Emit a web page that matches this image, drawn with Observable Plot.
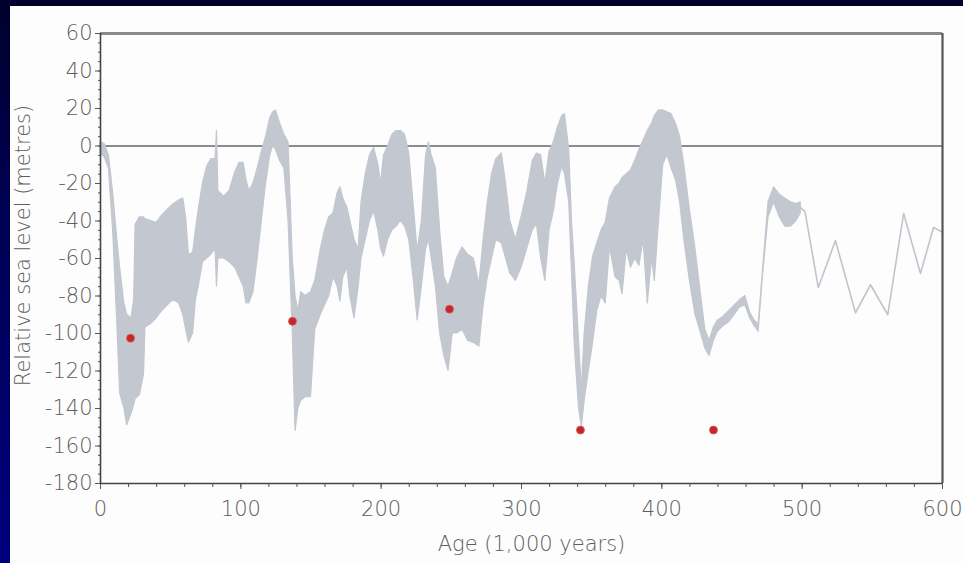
<!DOCTYPE html>
<html>
<head>
<meta charset="utf-8">
<script src="https://cdn.jsdelivr.net/npm/d3@7"></script>
<script src="https://cdn.jsdelivr.net/npm/@observablehq/plot@0.6"></script>
<style>
  html, body { margin: 0; padding: 0; width: 963px; height: 563px; overflow: hidden; }
  body { background: linear-gradient(to bottom, #00002c 0%, #000050 35%, #00007e 100%); position: relative; }
  #panel { position: absolute; left: 10px; top: 6px; right: 0; bottom: 0; background: #fdfdfd; }
  #chart { position: absolute; left: 0; top: 0; }
</style>
</head>
<body>
<div id="panel"></div>
<div id="chart"></div>
<script>
// Sea-level band (ages in thousand years, metres)
const ages  = [0,3,6,9,12,14,17,19,22,24,25,28,31,32,36,40,44,48,52,56,59,61,63,66,68,70,73,76,79,82,83,84,88,92,96,99,102,104,106,109,112,115,118,121,123,125,128,131,134,137,139,141,143,146,150,153,157,160,163,166,169,171,173,176,178,181,184,186,189,192,195,198,200,202,205,208,211,214,217,220,223,226,229,232,234,236,239,242,245,248,251,254,258,262,266,270,273,276,279,282,286,289,292,296,300,304,308,311,314,317,320,323,326,329,331,334,336,338,341,343,345,348,351,354,357,360,363,367,370,372,375,378,381,384,387,390,393,395,398,401,404,407,410,413,416,420,424,428,431,434,437,440,444,448,452,456,459.5,463,466,469,472,476,480,484,488,492,496,499];
const lower = [-4,-6,-12,-45,-95,-132,-140,-149,-143,-138,-135,-133,-122,-97,-95,-92,-88,-85,-82,-84,-90,-98,-105,-100,-82,-75,-62,-60,-58,-55,-75,-60,-60,-62,-65,-70,-75,-84,-84,-78,-60,-40,-20,-5,0,-2,-8,-12,-40,-100,-152,-140,-136,-134,-134,-98,-90,-85,-80,-70,-75,-83,-70,-65,-80,-92,-75,-60,-50,-40,-35,-45,-55,-59,-50,-45,-43,-40,-43,-50,-70,-93,-75,-55,-50,-60,-75,-100,-112,-120,-100,-100,-98,-104,-105,-107,-85,-70,-60,-50,-52,-60,-68,-72,-65,-55,-45,-42,-60,-72,-45,-35,-20,-11,-15,-30,-68,-107,-140,-150,-136,-120,-105,-88,-80,-84,-54,-70,-72,-79,-55,-65,-60,-64,-50,-84,-60,-72,-40,-10,-5,-12,-18,-30,-50,-72,-90,-100,-108,-112,-104,-99,-96,-94,-90,-86,-85,-92,-96,-99,-70,-38,-30,-38,-43,-43,-40,-36];
const upper = [2,1,-5,-25,-50,-65,-84,-90,-92,-82,-42,-38,-38,-39,-40,-41,-37,-34,-31,-29,-28,-38,-58,-57,-45,-34,-20,-11,-7,-7,8,-24,-27,-24,-14,-9,-9,-18,-24,-20,-12,-3,5,15,18,19,12,6,2,-60,-80,-88,-78,-80,-78,-72,-55,-45,-38,-36,-25,-22,-28,-33,-40,-50,-55,-30,-15,-5,-1,-10,-20,-5,0,6,8,8,6,-4,-30,-56,-40,-5,2,-5,-12,-45,-70,-75,-68,-60,-54,-58,-60,-74,-50,-30,-15,-7,-4,-20,-40,-50,-38,-25,-8,-4,-5,-20,-3,2,10,16,17,-2,-40,-64,-104,-130,-100,-75,-59,-52,-45,-41,-28,-22,-20,-17,-15,-13,-8,-2,3,8,12,16,19,19,18,17,12,5,-10,-34,-55,-80,-98,-104,-97,-93,-91,-88,-85,-82,-80,-89,-93,-95,-67,-30,-22,-26,-28,-30,-31,-30];

// Thin single-line section
const tailAges  = [499,502,511.5,523.7,538,548.7,561,572.3,584.3,593.6,600];
const tailLevel = [-33,-35,-75.5,-50.4,-89,-74,-90,-36,-68,-43.5,-46];

// Red points
const dotAges  = [21.4,136.8,248.7,342,436.8];
const dotLevel = [-102.5,-93.5,-87,-151.5,-151.5];

// Axis ticks
const xMajor = [0,100,200,300,400,500,600];
const xMinor = d3.range(0, 601, 20);
const yMajor = d3.range(-180, 61, 20);
const yMinor = d3.range(-180, 61, 5);

const band = ages.map((a, i) => ({age: a, lo: lower[i], hi: upper[i]}));
const tail = tailAges.map((a, i) => ({age: a, level: tailLevel[i]}));
const dots = dotAges.map((a, i) => ({age: a, level: dotLevel[i]}));

const textColor = "#5e5e5e";
const bandColor = "#c3c7cf";
const font = "'DejaVu Sans', Verdana, sans-serif";

const chart = Plot.plot({
  width: 963,
  height: 563,
  marginLeft: 100,
  marginRight: 21,
  marginTop: 33,
  marginBottom: 80,
  style: {background: "transparent", fontFamily: font, fontSize: "21px", fontWeight: 200, color: textColor},
  x: {domain: [0, 600]},
  y: {domain: [-180, 60]},
  marks: [
    Plot.ruleY([0], {stroke: "#8c8c8c", strokeWidth: 2}),
    Plot.areaY(band, {x: "age", y1: "lo", y2: "hi", fill: bandColor, stroke: bandColor, strokeWidth: 1.2}),
    Plot.line(tail, {x: "age", y: "level", stroke: "#c0c4cc", strokeWidth: 1.6}),
    Plot.dot(dots, {x: "age", y: "level", r: 4, fill: "#c4262d", stroke: "#e05a5a", strokeWidth: 0.8}),
    Plot.ruleY([60], {stroke: "#8a8a8a", strokeWidth: 3}),
    Plot.ruleX([600], {stroke: "#555", strokeWidth: 2.2}),
    Plot.axisX({ticks: xMinor, tickSize: 4, tickFormat: () => "", label: null, stroke: "#555"}),
    Plot.axisX({ticks: xMajor, tickSize: 6, tickPadding: 12, tickFormat: d => String(d), label: null, stroke: "#555", fill: textColor}),
    Plot.axisY({ticks: yMinor, tickSize: 2, tickFormat: () => "", label: null, stroke: "#555"}),
    Plot.axisY({ticks: yMajor, tickSize: 5, tickPadding: 3, tickFormat: d => String(d), label: null, stroke: "#555", fill: textColor}),
    Plot.ruleX([0], {stroke: "#444", strokeWidth: 1.6}),
    Plot.ruleY([-180], {stroke: "#444", strokeWidth: 1.6}),
    Plot.text(["Relative sea level (metres)"], {frameAnchor: "left", textAnchor: "middle", dx: -77, dy: -13, rotate: -90, fill: textColor, fontSize: 21}),
    Plot.text(["Age (1,000 years)"], {frameAnchor: "bottom", textAnchor: "middle", dx: 10, dy: 67, fill: textColor, fontSize: 21})
  ]
});
document.getElementById("chart").appendChild(chart);
</script>
</body>
</html>
